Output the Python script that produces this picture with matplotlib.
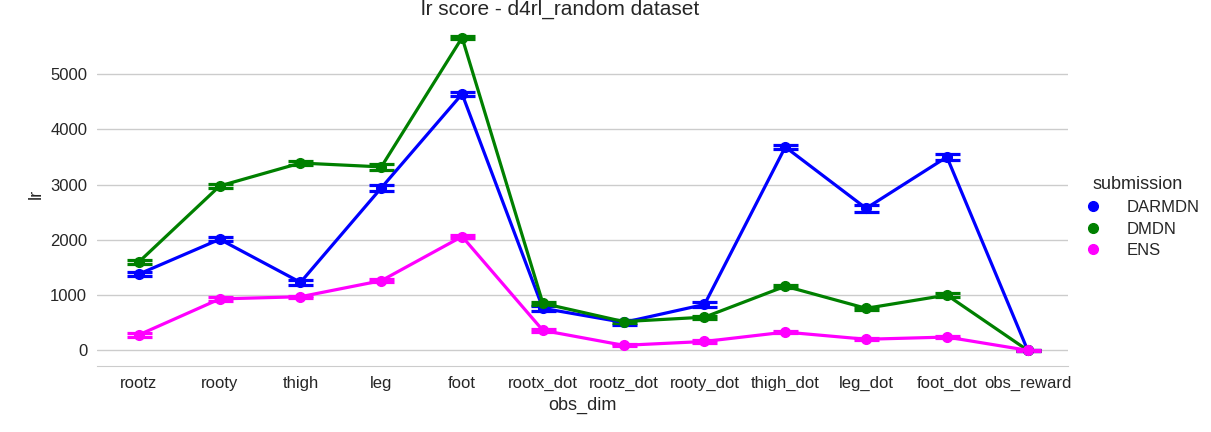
import matplotlib
matplotlib.use("Agg")
import matplotlib.pyplot as plt
from matplotlib.lines import Line2D
import numpy as np
import seaborn as sns

# data
obs_dims = ['rootz', 'rooty', 'thigh', 'leg', 'foot', 'rootx_dot', 'rootz_dot',
            'rooty_dot', 'thigh_dot', 'leg_dot', 'foot_dot', 'obs_reward']
submissions = ['DARMDN', 'DMDN', 'ENS']
colors = ['blue', 'green', 'magenta']

darmdn_lr = [1380, 2010, 1230, 2940, 4640, 760, 505, 830, 3680, 2570, 3500, 0]
dmdn_lr = [1600, 2975, 3390, 3320, 5660, 850, 520, 600, 1160, 760, 1000, 0]
ens_lr = [280, 930, 970, 1260, 2060, 360, 90, 160, 330, 200, 240, 0]

darmdn_err = [40, 40, 50, 50, 40, 40, 40, 50, 40, 60, 60, 10]
dmdn_err = [40, 40, 30, 50, 30, 30, 30, 30, 30, 30, 30, 10]
ens_err = [30, 30, 20, 30, 30, 20, 20, 20, 20, 20, 20, 10]

values = [darmdn_lr, dmdn_lr, ens_lr]
errors = [darmdn_err, dmdn_err, ens_err]

sns.set_style("whitegrid")
plt.rcParams['font.family'] = ['Liberation Sans', 'DejaVu Sans']

fig, ax = plt.subplots(figsize=(12.11, 4.32), dpi=100)
fig.subplots_adjust(left=0.08, right=0.882, top=0.95, bottom=0.152)

x = np.arange(len(obs_dims))
for vals, errs, col in zip(values, errors, colors):
    ax.errorbar(x, vals, yerr=errs, color=col, lw=2.3, marker='o', ms=7,
                capsize=9, capthick=2.3, elinewidth=2.3)

ax.set_xticks(x)
ax.set_xticklabels(obs_dims, fontsize=12, color='#262626')
ax.set_yticks([0, 1000, 2000, 3000, 4000, 5000])
ax.tick_params(axis='y', labelsize=12, colors='#262626')
ax.set_xlim(-0.52, 11.5)
ax.set_ylim(-290, 5950)
ax.grid(axis='x', visible=False)
ax.grid(axis='y', color='#cccccc', lw=1)
for s in ['top', 'right', 'left']:
    ax.spines[s].set_visible(False)
ax.spines['bottom'].set_color('#cccccc')

ax.set_xlabel('obs_dim', fontsize=13, color='#262626')
ax.set_ylabel('lr', fontsize=13, color='#262626')
fig.text(560 / 1211, 1 - 9 / 432, 'lr score - d4rl_random dataset', fontsize=15,
         color='#262626', ha='center', va='center')

handles = [Line2D([], [], ls='none', marker='o', ms=7, color=c) for c in colors]
leg = fig.legend(handles, submissions, title='submission', loc='center left',
                 bbox_to_anchor=(0.8765, 0.497), frameon=False, fontsize=12,
                 title_fontsize=13, handletextpad=1.0, labelspacing=0.4)

fig.savefig('out.png', dpi=100)
